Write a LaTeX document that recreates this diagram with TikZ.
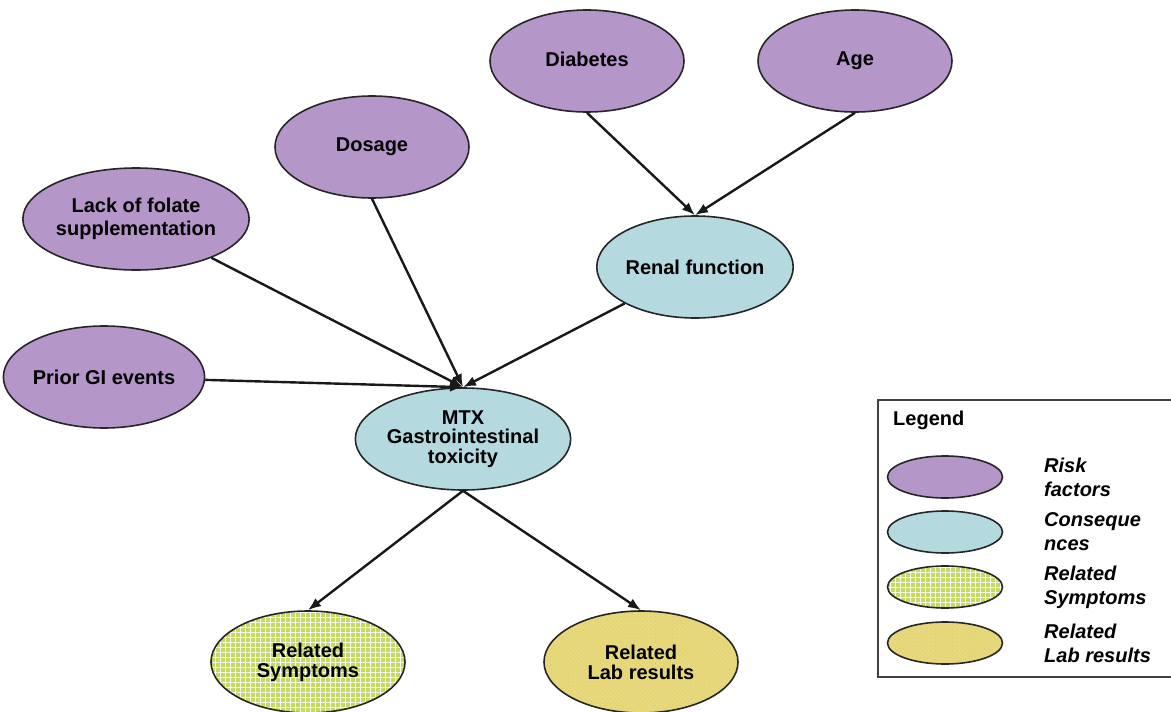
\documentclass[tikz,border=0pt]{standalone}
\usepackage{fontspec}
\setmainfont{Liberation Sans}
\usetikzlibrary{shapes.geometric,arrows.meta,patterns.meta}

\definecolor{riskfill}{RGB}{181,150,201}
\definecolor{consfill}{RGB}{180,218,224}
\definecolor{sympfill}{RGB}{196,218,100}
\definecolor{labfill}{RGB}{232,216,124}
\definecolor{labdots}{RGB}{214,196,100}

\tikzset{
  bubble/.style={ellipse, draw=black!85, line width=1.6pt, inner sep=0pt,
    minimum width=194pt, minimum height=102pt, align=center,
    font=\bfseries\fontsize{20}{23}\selectfont},
  risk/.style={bubble, fill=riskfill},
  cons/.style={bubble, fill=consfill},
  symp/.style={bubble, preaction={fill=sympfill},
    preaction={pattern={Hatch[angle=0,distance=5pt,line width=0.8pt]}, pattern color=white!90!sympfill}},
  lab/.style={bubble, preaction={fill=labfill},
    preaction={pattern={Dots[angle=45,distance=3pt,radius=0.45pt]}, pattern color=labdots}},
  small/.style={minimum width=115pt, minimum height=42pt},
  link/.style={-{Latex[length=13pt,width=10pt]}, line width=2.4pt, black!90},
  legtext/.style={anchor=west, align=left, inner sep=0pt,
    font=\bfseries\itshape\fontsize{20}{24}\selectfont}
}

\begin{document}
\begin{tikzpicture}[x=1pt,y=-1pt]
  \useasboundingbox[fill=white] (0,0) rectangle (1171,712);

  % risk factors
  \node[risk] (diab)   at (587,61)  {Diabetes\vphantom{g}};
  \node[risk] (age)    at (855,61)  {Age};
  \node[risk] (dose)   at (372,147) {Dosage};
  \node[risk] (folate) at (136,219) {Lack of folate\\supplementation};
  \node[risk] (prior)  at (104,377) {Prior GI events};

  % consequences
  \node[cons] (renal) at (695,267) {Renal function};
  \node[cons, minimum width=176pt, font=\bfseries\fontsize{20}{19.5}\selectfont]
    (mtx) at (463,439) {MTX\\Gastrointestinal\\toxicity};

  % related findings
  \node[symp, font=\bfseries\fontsize{20}{20}\selectfont] (symp) at (308,662) {Related\\Symptoms};
  \node[lab, font=\bfseries\fontsize{20}{20}\selectfont]  (lab)  at (641,662) {Related\\Lab results};

  % connectors
  \draw[link] (diab.south) -- (renal.north);
  \draw[link] (age.south)  -- (renal.north);
  \draw[link] (dose.south) -- (mtx.north);
  \draw[link] (folate)     -- (mtx.north);
  \draw[link] (prior)      -- (mtx.north);
  \draw[link] (renal)      -- (mtx.north);
  \draw[link] (mtx.south)  -- (symp.north);
  \draw[link] (mtx.south)  -- (lab.north);

  % legend
  \draw[black!75, line width=1.5pt] (878,400) rectangle (1176,677);
  \node[anchor=west, inner sep=0pt, font=\bfseries\fontsize{20}{24}\selectfont] (legtitle) at (893,420) {Legend};
  \node[risk, small] (lrisk) at (945,477) {};
  \node[cons, small] (lcons) at (945,532) {};
  \node[symp, small] (lsymp) at (945,587) {};
  \node[lab, small]  (llab)  at (945,643) {};
  \node[legtext] (trisk) at (1044,477) {Risk\\factors};
  \node[legtext] (tcons) at (1044,532) {Conseque\\nces};
  \node[legtext] (tsymp) at (1044,587) {Related\\Symptoms};
  \node[legtext] (tlab)  at (1044,643) {Related\\Lab results};
\end{tikzpicture}
\end{document}
